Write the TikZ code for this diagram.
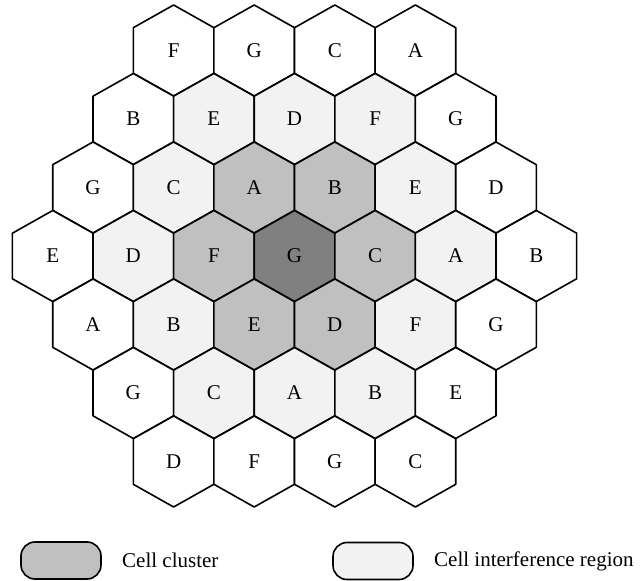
\documentclass[tikz,border=0pt]{standalone}
\usepackage{fontspec}
\setmainfont{Liberation Serif}
\usepackage{tikz}
\usetikzlibrary{positioning}
\definecolor{cellw}{HTML}{FFFFFF}
\definecolor{celll}{HTML}{F2F2F2}
\definecolor{cellc}{HTML}{C0C0C0}
\definecolor{cellm}{HTML}{808080}

\begin{document}
\begin{tikzpicture}[
    x=0.5pt, y=-0.5pt,
    font=\fontsize{10.5}{12}\selectfont,
    hexcell/.pic={\draw[pic actions] (0,-45.5) -- (40.3,-22.8) -- (40.3,22.8) -- (0,45.5) -- (-40.3,22.8) -- (-40.3,-22.8) -- cycle;},
    legendbox/.style={draw, line width=0.8pt, rounded corners=7pt, minimum width=40pt, minimum height=18.5pt, inner sep=0pt}
]
\useasboundingbox (0,0) rectangle (641,581);

% hexagonal cells, row by row
\foreach \r/\cells in {0/{F/w,G/w,C/w,A/w},
                       1/{B/w,E/l,D/l,F/l,G/w},
                       2/{G/w,C/l,A/c,B/c,E/l,D/w},
                       3/{E/w,D/l,F/c,G/m,C/c,A/l,B/w},
                       4/{A/w,B/l,E/c,D/c,F/l,G/w},
                       5/{G/w,C/l,A/l,B/l,E/w},
                       6/{D/w,F/w,G/w,C/w}} {
    \pgfmathsetmacro\n{7-abs(\r-3)}
    \foreach \lab/\col [count=\c from 0] in \cells {
        \pgfmathsetmacro\cx{294.5+(\c-(\n-1)/2)*80.6}
        \pgfmathsetmacro\cy{50.5+\r*68.5}
        \pic[fill=cell\col, line width=0.8pt, line join=round] at (\cx,\cy) {hexcell};
        \node (h-\r-\c) at (\cx,\cy) {\lab};
    }
}

% legend
\node[legendbox, fill=cellc] (keycluster) at (61,560.5) {};
\node[right=10pt of keycluster.east, anchor=west, inner sep=0pt] (txtcluster) {Cell cluster};
\node[legendbox, fill=celll] (keyregion) at (373,561) {};
\node[right=10pt of keyregion.east, anchor=west, inner sep=0pt] (txtregion) {Cell interference region};

\end{tikzpicture}
\end{document}
